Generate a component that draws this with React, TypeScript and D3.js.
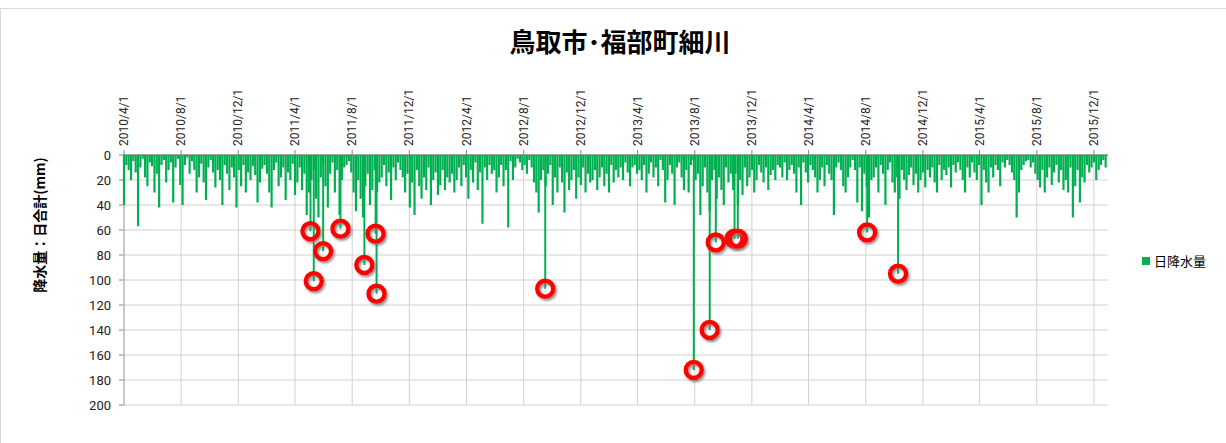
import React from "react";
import * as d3 from "d3";

const startDate = new Date(2010, 3, 1);
const endDate = new Date(2015, 11, 31);
const stepDays = 5;
const dailyValues: number[] = [
  40,8,12,20,5,14,57,10,3,18,25,6,9,30,15,42,8,4,22,12,
  6,38,10,3,24,40,8,2,15,5,12,30,18,7,22,36,10,4,14,26,
  12,20,40,8,15,28,10,18,42,12,25,8,30,14,20,9,16,38,22,11,
  8,15,30,42,12,6,25,18,10,36,14,20,7,32,22,10,28,15,48,30,
  20,12,35,50,18,8,25,42,15,6,30,12,48,20,10,8,5,14,30,45,
  20,35,50,25,15,40,28,12,30,22,18,8,25,14,36,10,20,6,12,18,
  30,15,42,22,48,12,25,35,18,28,10,40,20,14,32,24,12,28,18,22,
  15,30,20,10,25,8,18,35,12,22,6,28,14,55,10,20,8,15,12,30,
  18,8,25,12,58,5,20,10,3,6,12,8,15,4,10,22,30,46,20,12,
  25,15,8,40,18,30,10,22,46,14,28,20,12,35,18,24,10,30,15,22,
  20,12,28,18,10,25,15,30,8,22,12,18,10,20,6,14,25,10,8,15,
  12,20,8,30,15,6,18,10,25,4,12,38,20,8,15,40,10,6,18,28,
  12,30,8,4,20,15,48,25,10,30,45,20,12,35,18,28,40,10,22,15,
  28,15,40,20,32,10,25,18,12,30,20,8,14,22,10,28,16,12,20,8,
  10,18,6,20,12,8,15,30,10,40,6,14,22,8,12,18,30,20,10,25,
  8,15,20,48,10,6,12,25,30,18,10,4,12,38,10,45,15,25,50,20,
  18,10,30,8,15,40,12,6,22,30,18,35,12,20,28,16,10,24,15,30,
  20,14,26,12,18,10,22,30,8,20,12,16,10,26,8,14,6,12,20,30,
  10,18,6,14,20,8,40,12,22,30,10,18,8,12,25,6,10,4,8,14,
  20,50,30,12,8,5,4,10,6,15,20,26,12,30,18,10,24,14,8,22,
  12,28,20,30,10,50,25,12,38,18,22,8,14,10,6,20,12,8,4,10,
];
const extremeDates = ["2011-05-04","2011-05-11","2011-05-31","2011-07-07","2011-08-27","2011-09-20","2011-09-22","2012-09-16","2013-07-30","2013-09-02","2013-09-15","2013-10-25","2013-11-01","2014-08-04","2014-10-09"];
const extremeValues = [61,101,77,59,88,63,111,107,172,140,70,67,67,62,95];
const yTicks = [0,20,40,60,80,100,120,140,160,180,200];
const xTickLabels = ["2010/4/1","2010/8/1","2010/12/1","2011/4/1","2011/8/1","2011/12/1","2012/4/1","2012/8/1","2012/12/1","2013/4/1","2013/8/1","2013/12/1","2014/4/1","2014/8/1","2014/12/1","2015/4/1","2015/8/1","2015/12/1"];

const parse = (s: string) => { const [y, m, d] = s.split(/[-/]/).map(Number); return new Date(y, m - 1, d); };

export default function App() {
  const W = 1226, H = 443;
  const x = d3.scaleTime().domain([startDate, endDate]).range([124, 1108]);
  const y = d3.scaleLinear().domain([0, 200]).range([155, 405]);
  const bars = dailyValues.map((v, i) => ({ date: d3.timeDay.offset(startDate, i * stepDays), v }))
    .filter(b => b.date <= endDate);
  const ext = extremeDates.map((s, i) => ({ date: parse(s), v: extremeValues[i] }));
  const green = "#00b050";
  return (
    <svg width={W} height={H} style={{ position: "absolute", left: 0, top: 0, fontFamily: "Roboto, 'Noto Sans CJK JP', sans-serif" }}>
      <defs>
        <filter id="sh" x="-50%" y="-50%" width="200%" height="200%">
          <feDropShadow dx="1.5" dy="2" stdDeviation="1.2" floodColor="#777" floodOpacity="0.8" />
        </filter>
      </defs>
      <rect x={0.5} y={8.5} width={W} height={H} fill="#fff" stroke="#d9d9d9" />
      <text x={620} y={52} textAnchor="middle" fontSize={26} fontWeight="bold" fontFamily="'Noto Sans CJK JP', sans-serif">鳥取市･福部町細川</text>
      {yTicks.map(t => (
        <g key={t}>
          <line x1={124} x2={1108} y1={y(t)} y2={y(t)} stroke={t === 0 ? "#868686" : "#d0d0d0"} strokeWidth={t === 0 ? 1.5 : 1} />
          <line x1={119} x2={124} y1={y(t)} y2={y(t)} stroke="#868686" />
          <text x={111} y={y(t) + 5} textAnchor="end" fontSize={13} fill="#222">{t}</text>
        </g>
      ))}
      <line x1={124} x2={124} y1={155} y2={405} stroke="#868686" />
      {xTickLabels.map(s => {
        const xx = x(parse(s));
        return (
          <g key={s}>
            <line x1={xx} x2={xx} y1={155} y2={405} stroke="#d0d0d0" />
            <line x1={xx} x2={xx} y1={150} y2={155} stroke="#868686" />
            <text transform={`translate(${xx + 4},146) rotate(-90)`} fontSize={12} fill="#222">{s}</text>
          </g>
        );
      })}
      {bars.map((b, i) => (
        <line key={i} x1={x(b.date)} x2={x(b.date)} y1={y(0)} y2={y(b.v)} stroke={green} strokeWidth={2.2} />
      ))}
      {ext.map((b, i) => (
        <line key={"e" + i} x1={x(b.date)} x2={x(b.date)} y1={y(0)} y2={y(b.v)} stroke={green} strokeWidth={2} />
      ))}
      {ext.map((b, i) => (
        <circle key={"c" + i} cx={x(b.date)} cy={y(b.v)} r={8} fill="none" stroke="#ff0000" strokeWidth={4.5} filter="url(#sh)" />
      ))}
      <text transform="translate(45,225) rotate(-90)" textAnchor="middle" fontSize={14} fontWeight="bold" fontFamily="'Noto Sans CJK JP', sans-serif">降水量：日合計(mm)</text>
      <rect x={1142} y={257} width={8} height={8} fill={green} />
      <text x={1154} y={266} fontSize={13} fontFamily="'Noto Sans CJK JP', sans-serif">日降水量</text>
    </svg>
  );
}
